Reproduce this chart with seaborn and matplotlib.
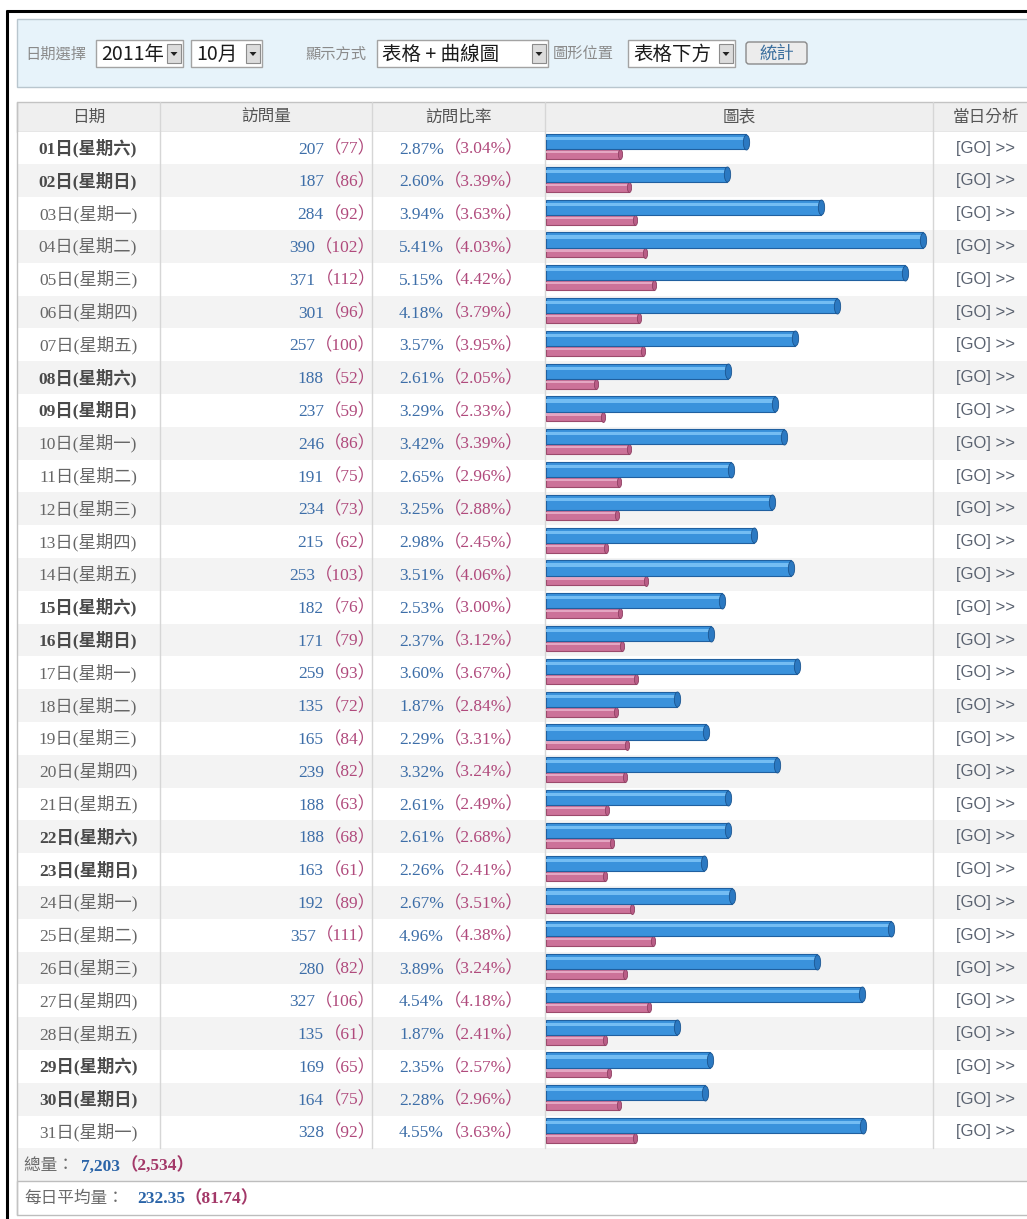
import matplotlib
matplotlib.use("Agg")
import matplotlib.pyplot as plt
from matplotlib.patches import Rectangle, FancyBboxPatch, Polygon
from matplotlib.path import Path
from matplotlib.transforms import Affine2D
import pandas as pd
import seaborn as sns

# --- data (October 2011) ---
day_nums = list(range(1, 32))
weekdays = ["六", "日", "一", "二", "三", "四", "五"]   # Oct 1st 2011 = Saturday
visits = [207, 187, 284, 390, 371, 301, 257, 188, 237, 246, 191, 234, 215, 253, 182, 171,
          259, 135, 165, 239, 188, 188, 163, 192, 357, 280, 327, 135, 169, 164, 328]
visits_prev = [77, 86, 92, 102, 112, 96, 100, 52, 59, 86, 75, 73, 62, 103, 76, 79,
               93, 72, 84, 82, 63, 68, 61, 89, 111, 82, 106, 61, 65, 75, 92]
headers = ["日期", "訪問量", "訪問比率", "圖表", "當日分析"]
controls = ["日期選擇", "2011年", "10月", "顯示方式", "表格 + 曲線圖", "圖形位置", "表格下方", "統計"]

sns.set_theme(style="white")
CJK = ["Noto Sans CJK TC", "DejaVu Sans"]
SERIF = ["Liberation Serif", "Noto Sans CJK TC"]
plt.rcParams["font.family"] = CJK

BLUE_TXT = "#3d6ea8"
PINK_TXT = "#b04a7c"
GRAY_TXT = "#555555"
FS = 12.5

total = sum(visits)
total_prev = sum(visits_prev)
days = [f"{d:02d}日(星期{weekdays[(d - 1) % 7]})" for d in day_nums]
df = pd.DataFrame({"day": days, "visits": visits, "prev": visits_prev})
n = len(df)

W, H = 1027, 1219
fig = plt.figure(figsize=(W / 100, H / 100), dpi=100)
bg = fig.add_axes([0, 0, 1, 1])
bg.set_xlim(0, W)
bg.set_ylim(H, 0)
bg.axis("off")
renderer = fig.canvas.get_renderer()

# layout (pixels)
ROW_TOP, ROW_H = 131.6, 32.8
cols = [17, 160, 372, 545, 933, 1040]
row_bottom = ROW_TOP + n * ROW_H


def chain(x, y, parts, align="left", **kw):
    """write coloured pieces one after the other on a common baseline"""
    seq = parts if align == "left" else parts[::-1]
    for s, color, weight in seq:
        t = bg.text(x, y, s, ha=align, va="baseline", color=color, weight=weight, **kw)
        w = t.get_window_extent(renderer).width
        x = x + w if align == "left" else x - w


# outer frame
bg.plot([7, 7], [10, H], color="black", lw=2.2, solid_capstyle="butt")
bg.plot([6, W], [10.5, 10.5], color="black", lw=2.2, solid_capstyle="butt")

# control panel
bg.add_patch(Rectangle((17, 19), 1040 - 17, 68, facecolor="#e7f3fa", edgecolor="#b9c6ce", lw=1))


def select_box(x0, x1, label):
    bg.add_patch(Rectangle((x0, 40), x1 - x0, 27, facecolor="white", edgecolor="#a3a3a3", lw=1))
    bg.text(x0 + 5, 54, label, ha="left", va="center", fontsize=14, color="#1a1a1a")
    bg.add_patch(Rectangle((x1 - 16, 44), 14, 19, facecolor="#dcdcdc", edgecolor="#8c8c8c", lw=0.8))
    cx = x1 - 9
    bg.add_patch(Polygon([(cx - 3.5, 52), (cx + 3.5, 52), (cx, 56)], closed=True,
                         facecolor="#222222", edgecolor="none"))


bg.text(25, 54, controls[0], ha="left", va="center", fontsize=11, color="#8a8a8a")
select_box(96, 183, controls[1])
select_box(191, 262, controls[2])
bg.text(305, 54, controls[3], ha="left", va="center", fontsize=11, color="#8a8a8a")
select_box(377, 548, controls[4])
bg.text(553, 54, controls[5], ha="left", va="center", fontsize=11, color="#8a8a8a")
select_box(628, 735, controls[6])
bg.add_patch(FancyBboxPatch((746, 42), 61, 22, boxstyle="round,pad=0,rounding_size=3",
                            facecolor="#ececec", edgecolor="#8a8a8a", lw=1))
bg.text(776.5, 53.5, controls[7], ha="center", va="center", fontsize=12.5, color="#3b6f9e")

# table header
bg.add_patch(Rectangle((17, 102), 1040 - 17, ROW_TOP - 102, facecolor="#efefef",
                       edgecolor="#c3c3c3", lw=1))
for j, h in enumerate(headers):
    cx = (cols[j] + cols[j + 1]) / 2
    if j == 4:
        cx = 986
    bg.text(cx, 117, h, ha="center", va="center", fontsize=12, color=GRAY_TXT)

# row backgrounds
for i in range(n):
    y0 = ROW_TOP + i * ROW_H
    bg.add_patch(Rectangle((17, y0), 1040 - 17, ROW_H,
                           facecolor="white" if i % 2 == 0 else "#f3f3f3", edgecolor="none"))

# totals rows
bg.add_patch(Rectangle((17, row_bottom), 1040 - 17, 33, facecolor="#f3f3f3", edgecolor="none"))
bg.add_patch(Rectangle((17, row_bottom + 33), 1040 - 17, 1215 - row_bottom - 33,
                       facecolor="white", edgecolor="#bdbdbd", lw=1))
bg.plot([17, 17], [102, 1215], color="#c3c3c3", lw=1)
for x in cols[1:5]:
    bg.plot([x, x], [102, row_bottom], color="#d6d6d6", lw=1)

# table texts
for i in range(n):
    yc = ROW_TOP + ROW_H * (i + 0.5)
    yb = yc + 5.5
    weekend = weekdays[i % 7] in ("六", "日")
    bg.text(88, yc, days[i], ha="center", va="center", fontsize=FS, family=SERIF,
            weight="bold" if weekend else "normal", color="#4a4a4a" if weekend else "#666666")
    chain(376, yb, [(f"{visits[i]}", BLUE_TXT, "normal"),
                    (f"（{visits_prev[i]}）", PINK_TXT, "normal")],
          align="right", fontsize=FS, family=SERIF)
    chain(399, yb, [(f"{visits[i] / total * 100:.2f}%", BLUE_TXT, "normal"),
                    (f"（{visits_prev[i] / total_prev * 100:.2f}%）", PINK_TXT, "normal")],
          fontsize=FS, family=SERIF)
    bg.text(985, yc, "[GO] >>", ha="center", va="center", fontsize=12,
            family=["Liberation Sans", "DejaVu Sans"], color="#5a6270")

# totals / averages
chain(24, row_bottom + 22, [("總量：  ", "#6a6a6a", "normal")], fontsize=12)
chain(81, row_bottom + 22, [(f"{total:,}", "#2a64a8", "bold"),
                            (f"（{total_prev:,}）", "#a33868", "bold")], fontsize=FS, family=SERIF)
chain(24, row_bottom + 55, [("每日平均量：", "#6a6a6a", "normal")], fontsize=12)
chain(137, row_bottom + 55, [(f"{total / n:.2f}", "#2a64a8", "bold"),
                             (f"（{total_prev / n:.2f}）", "#a33868", "bold")], fontsize=FS, family=SERIF)

# --- bar chart column: one transparent axes per layer, shifted within the row ---
rect = [546 / W, 1 - row_bottom / H, (933 - 546) / W, n * ROW_H / H]
cap = Path.unit_circle().transformed(Affine2D().scale(0.42, 1.0))


def layer(shift):
    ax = fig.add_axes(rect)
    ax.patch.set_visible(False)
    return ax, shift


def finish(ax, shift):
    ax.set_xlim(0, 400)
    ax.set_ylim(n - 0.5 + shift, -0.5 + shift)
    ax.axis("off")


series = [
    # column, bar colour, edge, highlight, cap colour, cap edge, width, shift, cap size
    ("prev", "#cc7299", "#9c4a6c", "#e4a6c2", "#b95d86", "#8f4063", 0.30, -0.186, 52),
    ("visits", "#3a92dc", "#2060a0", "#74bdf3", "#2b79c2", "#1b5590", 0.46, 0.195, 117),
]
for col, fc, ec, hi, cc, cec, width, shift, s in series:
    ax, sh = layer(shift)
    sns.barplot(data=df, x=col, y="day", orient="h", color=fc, saturation=1, width=width,
                edgecolor=ec, linewidth=0.8, ax=ax)
    finish(ax, sh)
    ax, sh = layer(shift + width * 0.2)
    sns.barplot(data=df, x=col, y="day", orient="h", color=hi, saturation=1, width=width * 0.22,
                linewidth=0, ax=ax)
    finish(ax, sh)
    ax, sh = layer(shift)
    sns.scatterplot(data=df, x=col, y="day", marker=cap, s=s, color=cc,
                    edgecolor=cec, linewidth=0.6, ax=ax, zorder=3)
    finish(ax, sh)

fig.savefig("out.png", dpi=100, facecolor="white")
